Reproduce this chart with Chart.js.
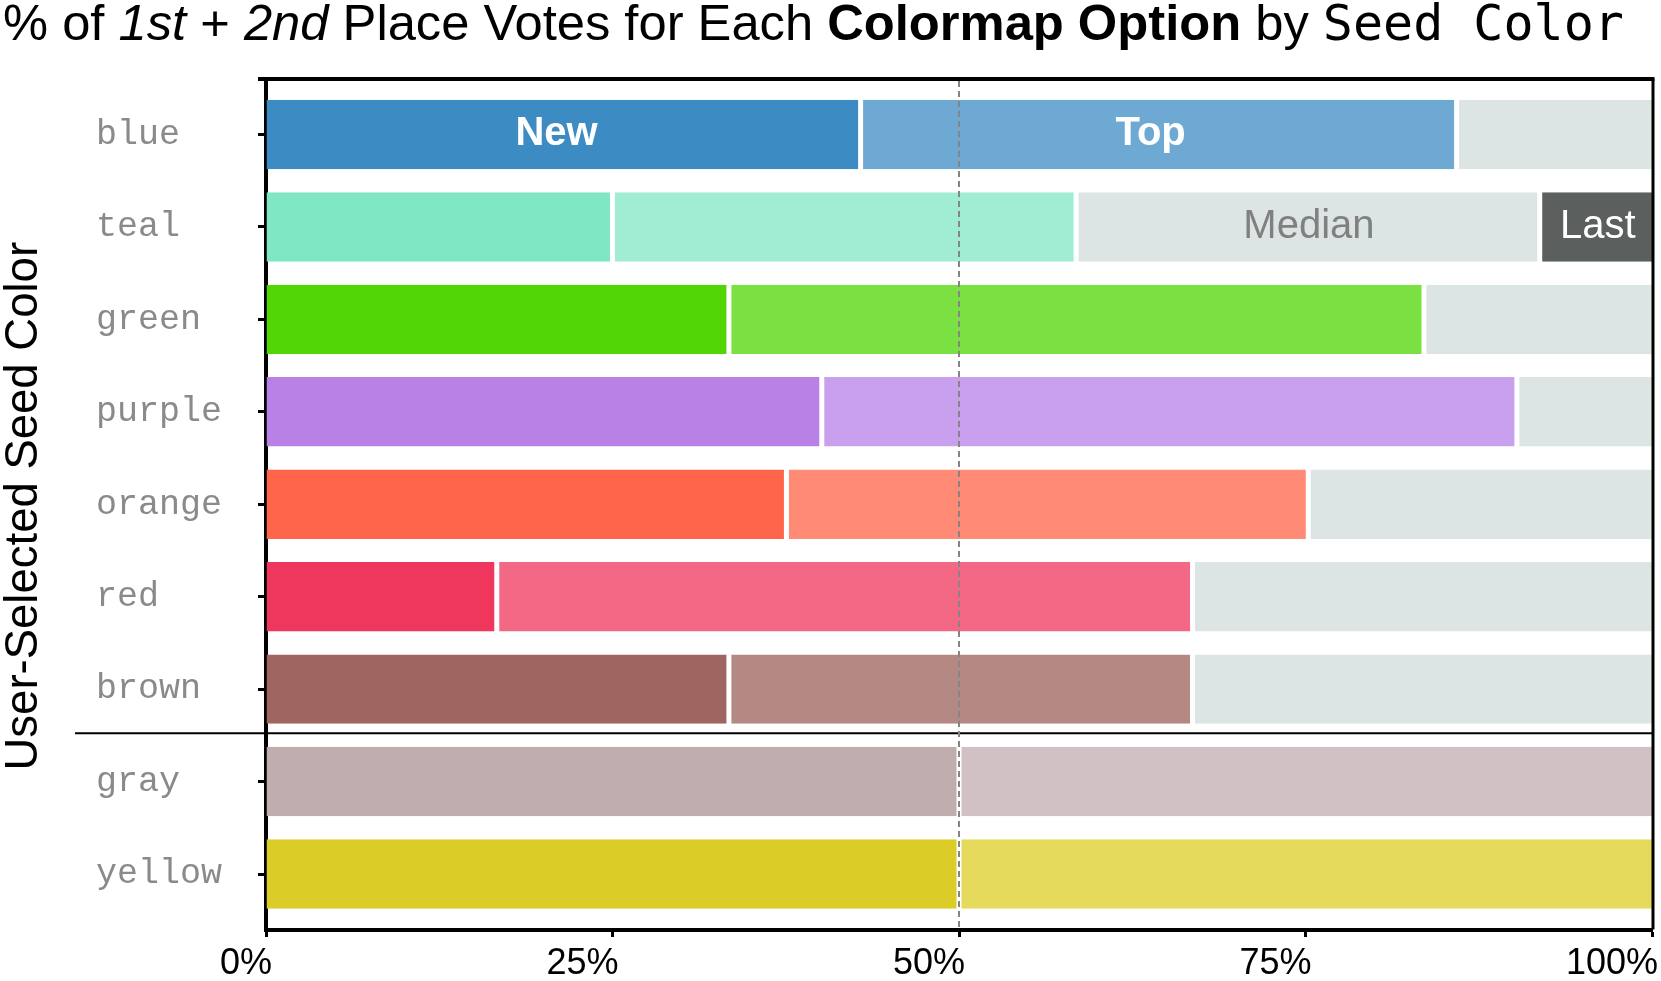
<!DOCTYPE html>
<html>
<head>
<meta charset="utf-8">
<script src="https://cdn.jsdelivr.net/npm/chart.js@4.4.1/dist/chart.umd.min.js"></script>
<style>
  html, body { margin: 0; padding: 0; background: #fff; }
  #wrap { position: relative; width: 1661px; height: 981px; }
  #title {
    position: absolute; left: 3px; top: -2px;
    font: 50.7px 'Liberation Sans', Arial, sans-serif; line-height: 50px;
    white-space: nowrap; color: #000;
  }
  #title .mono { font-family: 'DejaVu Sans Mono', monospace; font-size: 50px; }
</style>
</head>
<body>
<div id="wrap">
  <canvas id="votechart"></canvas>
  <div id="title">% of <i>1st</i> + <i>2nd</i> Place Votes for Each <b>Colormap Option</b> by <span class="mono">Seed Color</span></div>
</div>
<script>
// rows, top to bottom
const seedColors = ['blue', 'teal', 'green', 'purple', 'orange', 'red', 'brown', 'gray', 'yellow'];
const optionNames = ['New', 'Top', 'Median', 'Last'];

// % of 1st + 2nd place votes per option
const newPct    = [42.9, 25.0, 33.4, 40.1, 37.55, 16.65, 33.4, 50.0, 50.0];
const topPct    = [43.0, 33.45, 50.15, 50.15, 37.65, 50.2, 33.45, 50.0, 50.0];
const medianPct = [14.1, 33.45, 16.45, 9.75, 24.8, 33.15, 33.15, 0, 0];
const lastPct   = [0, 8.1, 0, 0, 0, 0, 0, 0, 0];

const xTicks = [0, 25, 50, 75, 100];
const labelRow = [0, 0, 1, 1];   // row whose segment carries the option name
const separatorAfter = 6;        // line between brown and gray
const midLine = 50;

const newColors = ['#3c8cc3', '#80e7c5', '#51d604', '#b981e6', '#ff654b', '#ef365d', '#9e6561', '#c0aeaf', '#dbcc27'];
const topColors = ['#6da9d3', '#a0edd4', '#7be041', '#c9a0ee', '#ff8a75', '#f36884', '#b48883', '#d1c1c4', '#e6da5c'];
const medianColor = '#dde5e4';
const lastColor = '#5b605f';

const sansFont = "'Liberation Sans', Arial, sans-serif";
const monoFont = "'Liberation Mono', 'Courier New', monospace";
Chart.defaults.font.family = sansFont;

function toPoints(values) {
  return values.map((v, i) => ({ x: v, y: i }));
}

// white gaps between segments, none at the 0% and 100% ends
function segmentBorder(ctx) {
  const sets = ctx.chart.data.datasets;
  let start = 0;
  for (let k = 0; k < ctx.datasetIndex; k++) start += sets[k].data[ctx.dataIndex].x;
  const end = start + sets[ctx.datasetIndex].data[ctx.dataIndex].x;
  return { top: 0, bottom: 0, left: start <= 0 ? 0 : 2.5, right: end >= 99.9 ? 0 : 2.5 };
}

const labelStyles = [
  { font: 'bold 40px ' + sansFont, color: '#fff', dx: -7 },
  { font: 'bold 40px ' + sansFont, color: '#fff', dx: -8 },
  { font: '40px ' + sansFont, color: '#808080', dx: 1 },
  { font: '40px ' + sansFont, color: '#fff', dx: 2 }
];

const decorations = {
  id: 'decorations',
  afterDatasetsDraw(chart) {
    const { ctx, chartArea: a, scales: { x, y } } = chart;
    ctx.save();
    ctx.strokeStyle = '#000';
    ctx.lineWidth = 4;
    ctx.beginPath(); ctx.moveTo(a.left - 8, a.top); ctx.lineTo(a.right + 2.5, a.top); ctx.stroke();
    ctx.lineWidth = 3;
    ctx.beginPath(); ctx.moveTo(a.right + 1, a.top); ctx.lineTo(a.right + 1, a.bottom); ctx.stroke();

    const sy = y.getPixelForValue(separatorAfter + 0.5) - 2;
    ctx.lineWidth = 2;
    ctx.beginPath(); ctx.moveTo(75, sy); ctx.lineTo(a.right, sy); ctx.stroke();

    const mx = x.getPixelForValue(midLine);
    ctx.strokeStyle = '#858585';
    ctx.lineWidth = 2;
    ctx.setLineDash([6, 4]);
    ctx.beginPath(); ctx.moveTo(mx, a.top + 2); ctx.lineTo(mx, a.bottom - 2); ctx.stroke();
    ctx.setLineDash([]);

    ctx.textAlign = 'center';
    ctx.textBaseline = 'middle';
    optionNames.forEach((name, d) => {
      const bar = chart.getDatasetMeta(d).data[labelRow[d]];
      const st = labelStyles[d];
      ctx.font = st.font;
      ctx.fillStyle = st.color;
      ctx.fillText(name, (bar.x + bar.base) / 2 + st.dx, bar.y);
    });
    ctx.restore();
  },
  afterDraw(chart) {
    const { ctx, chartArea: a } = chart;
    ctx.save();
    ctx.translate(37, (a.top + a.bottom) / 2 + 2);
    ctx.rotate(-Math.PI / 2);
    ctx.font = '45.5px ' + sansFont;
    ctx.fillStyle = '#000';
    ctx.textAlign = 'center';
    ctx.textBaseline = 'alphabetic';
    ctx.fillText('User-Selected Seed Color', 0, 0);
    ctx.restore();
  }
};

const common = {
  barPercentage: 0.751,
  categoryPercentage: 1,
  borderColor: '#fff',
  borderSkipped: false,
  borderWidth: segmentBorder,
  inflateAmount: 0
};

new Chart(document.getElementById('votechart'), {
  type: 'bar',
  data: {
    datasets: [
      { label: optionNames[0], data: toPoints(newPct), backgroundColor: newColors, ...common },
      { label: optionNames[1], data: toPoints(topPct), backgroundColor: topColors, ...common },
      { label: optionNames[2], data: toPoints(medianPct), backgroundColor: medianColor, ...common },
      { label: optionNames[3], data: toPoints(lastPct), backgroundColor: lastColor, ...common }
    ]
  },
  options: {
    indexAxis: 'y',
    responsive: true,
    maintainAspectRatio: false,
    animation: false,
    events: [],
    layout: { padding: { left: 96, top: 79, right: 5, bottom: 0 } },
    plugins: { legend: { display: false }, tooltip: { enabled: false } },
    scales: {
      x: {
        type: 'linear', min: 0, max: 100, stacked: true, z: 1,
        afterBuildTicks: s => { s.ticks = xTicks.map(v => ({ value: v })); },
        afterFit: s => { s.height = 51.5; },
        ticks: {
          callback: v => v + '%', align: 'end', labelOffset: 6, padding: 9, color: '#000',
          font: { size: 36, lineHeight: 1 }, maxRotation: 0, autoSkip: false
        },
        grid: { drawOnChartArea: false, tickLength: 7.5, tickWidth: 3, tickColor: '#000' },
        border: { display: true, width: 4, color: '#000' }
      },
      y: {
        type: 'linear', min: -0.6, max: 8.6, reverse: true, stacked: true, z: 1,
        offset: false,
        afterBuildTicks: s => { s.ticks = seedColors.map((_, i) => ({ value: i })); },
        afterFit: s => { s.width = 170; },
        ticks: {
          callback: v => seedColors[v], crossAlign: 'far', color: '#8a8a8a',
          font: { family: monoFont, size: 35 }, autoSkip: false
        },
        grid: { offset: false, drawOnChartArea: false, tickLength: 8, tickWidth: 3, tickColor: '#000' },
        border: { display: true, width: 4, color: '#000' }
      }
    }
  },
  plugins: [decorations]
});
</script>
</body>
</html>
